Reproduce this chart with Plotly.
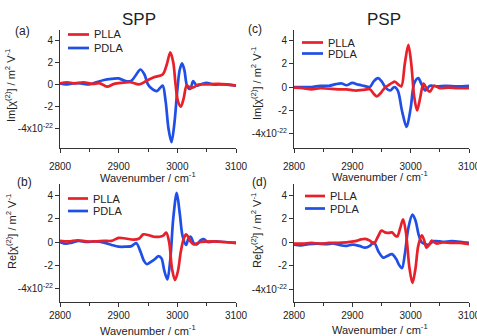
import plotly.graph_objects as go

W, H = 477, 336

RED = "#e8202a"
BLUE = "#1f4fe6"

# ---------------- data (wavenumber / cm^-1, chi^(2) in units of 1e-22 m^2 V^-1) ----------------
a_plla_x = [2800, 2812, 2825, 2840, 2855, 2868, 2880, 2892, 2905, 2920, 2935, 2948, 2960, 2975, 2982,
            2988, 2993, 2997, 3001, 3006, 3011, 3016, 3022, 3028, 3036, 3050, 3070, 3085, 3100]
a_plla_y = [0.1, 0.2, 0.1, 0.2, 0.05, 0.1, -0.2, 0.05, 0.15, 0.2, 0.0, 0.35, 0.65, 0.9, 1.8,
            2.9, 2.0, 0.0, -1.5, -2.0, -1.2, -0.1, -0.3, -0.25, 0.0, 0.0, 0.05, 0.0, -0.1]

a_pdla_x = [2800, 2810, 2822, 2835, 2850, 2862, 2875, 2888, 2900, 2912, 2922, 2930, 2937, 2944, 2950,
            2958, 2965, 2970, 2975, 2980, 2985, 2990, 2995, 3000, 3004, 3008, 3012, 3017, 3022, 3027,
            3033, 3040, 3050, 3060, 3080, 3100]
a_pdla_y = [0.1, 0.0, 0.1, 0.1, 0.0, 0.2, 0.4, 0.5, 0.55, 0.3, 0.35, 0.9, 1.35, 0.9, 0.0,
            -0.45, -0.6, -0.35, -0.1, -1.5, -4.0, -5.2, -3.5, -0.5, 1.3, 1.9, 1.3, -0.2, -0.4, 0.3,
            -0.1, 0.0, 0.15, 0.0, 0.0, -0.1]

c_plla_x = [2800, 2815, 2830, 2845, 2860, 2875, 2890, 2905, 2918, 2930, 2937, 2942, 2948, 2955, 2962,
            2968, 2973, 2979, 2984, 2990, 2996, 3001, 3006, 3011, 3016, 3022, 3028, 3033, 3040, 3050,
            3065, 3080, 3100]
c_plla_y = [-0.05, -0.1, -0.2, -0.1, -0.15, -0.2, -0.2, -0.3, -0.25, -0.2, -0.6, -0.8, -0.55, -0.1, 0.15,
            0.35, 0.45, 0.2, 0.05, 2.0, 3.6, 2.0, -0.8, -2.0, -1.0, 0.3, -0.2, -0.4, 0.1, -0.1,
            -0.05, -0.1, -0.1]

c_pdla_x = [2800, 2815, 2830, 2845, 2860, 2872, 2882, 2890, 2900, 2910, 2920, 2930, 2937, 2944, 2950,
            2957, 2965, 2972, 2978, 2985, 2993, 3000, 3006, 3013, 3019, 3025, 3033, 3045, 3060, 3080, 3100]
c_pdla_y = [0.0, 0.0, 0.0, 0.1, 0.1, 0.25, 0.3, 0.15, 0.35, 0.2, 0.1, 0.0, 0.5, 0.75, 0.5,
            -0.05, -0.3, 0.0, -0.3, -2.0, -3.4, -1.8, 0.3, 0.75, 0.2, -0.3, 0.1, 0.05, 0.1, 0.05, 0.1]

b_plla_x = [2800, 2815, 2830, 2845, 2860, 2875, 2888, 2900, 2912, 2925, 2935, 2942, 2950, 2960, 2970,
            2976, 2981, 2986, 2991, 2996, 3001, 3006, 3011, 3015, 3019, 3023, 3028, 3040, 3060, 3080, 3100]
b_plla_y = [0.1, 0.05, 0.15, 0.05, 0.05, 0.1, 0.1, 0.35, 0.3, 0.2, 0.3, 0.65, 0.6, 0.45, 0.45,
            0.55, 0.8, 0.0, -2.3, -3.25, -2.5, -0.8, 0.3, 0.65, 0.4, 0.0, -0.2, 0.0, 0.05, 0.0, -0.1]

b_pdla_x = [2800, 2810, 2820, 2832, 2845, 2860, 2875, 2888, 2900, 2912, 2922, 2930, 2937, 2943, 2948,
            2955, 2962, 2968, 2973, 2978, 2983, 2988, 2993, 2999, 3004, 3009, 3015, 3019, 3023, 3028,
            3033, 3040, 3045, 3052, 3065, 3080, 3100]
b_pdla_y = [0.0, -0.15, -0.05, 0.1, 0.0, 0.05, -0.05, -0.25, -0.4, -0.4, -0.35, -0.1, -0.8, -1.6, -1.9,
            -1.7, -1.45, -1.2, -1.4, -2.5, -3.2, -1.5, 2.0, 4.2, 2.5, 0.5, -0.25, 0.3, 0.45, -0.1,
            -0.2, 0.15, 0.25, 0.0, 0.05, 0.0, -0.05]

d_plla_x = [2800, 2815, 2830, 2845, 2860, 2875, 2890, 2905, 2915, 2922, 2930, 2937, 2944, 2950, 2956,
            2962, 2968, 2973, 2977, 2982, 2987, 2992, 2998, 3003, 3008, 3013, 3019, 3023, 3027, 3032,
            3036, 3044, 3055, 3070, 3085, 3100]
d_plla_y = [-0.1, -0.1, -0.05, -0.1, -0.05, -0.05, 0.0, 0.1, 0.25, 0.3, 0.15, -0.1, 0.5, 1.0, 0.85,
            0.8, 0.85, 0.6, 0.5, 1.2, 1.95, 0.8, -2.2, -3.45, -2.3, -0.3, 0.6, 0.2, -0.45, -0.2,
            0.15, -0.1, 0.0, -0.05, -0.05, -0.15]

d_pdla_x = [2800, 2812, 2825, 2840, 2855, 2868, 2880, 2890, 2900, 2912, 2922, 2930, 2937, 2945, 2953,
            2960, 2968, 2975, 2980, 2985, 2990, 2996, 3003, 3008, 3014, 3019, 3025, 3030, 3040, 3055,
            3070, 3085, 3100]
d_pdla_y = [-0.2, -0.25, -0.15, -0.1, -0.15, -0.1, -0.25, -0.3, -0.2, -0.3, -0.45, -0.3, 0.0, -0.8, -1.3,
            -1.15, -1.0, -1.4, -1.9, -2.2, -1.0, 1.2, 2.35, 1.9, 0.6, 0.0, -0.15, -0.2, 0.1, 0.05,
            0.1, 0.05, -0.05]

series_names = ["PLLA", "PDLA"]
panel_labels = ["(a)", "(b)", "(c)", "(d)"]
column_titles = ["SPP", "PSP"]
x_tickvals = [2800, 2900, 3000, 3100]
y_tickvals = [-4, -2, 0, 2, 4]
y_ticktext = ["-4x10<sup>-22</sup>", "-2", "0", "2", "4"]
x_title = "Wavenumber / cm<sup>-1</sup>"
y_title_im = "Im[χ<sup>(2)</sup>] / m<sup>2</sup> V<sup>-1</sup>"
y_title_re = "Re[χ<sup>(2)</sup>] / m<sup>2</sup> V<sup>-1</sup>"

# ---------------- layout helpers ----------------
def px(x):
    return x / W

def py(y):
    return 1 - y / H

FONT = "Arial, Liberation Sans, sans-serif"

# panel geometry in pixels
panels = {
    "a": dict(l=60, r=236, t=30, b=148, yr=[-5.73, 4.91], ax=1, stand=5),
    "b": dict(l=60, r=236, t=184, b=302, yr=[-5.13, 4.96], ax=2, stand=0),
    "c": dict(l=294, r=469, t=30, b=148, yr=[-5.2, 4.86], ax=3, stand=5),
    "d": dict(l=294, r=469, t=184, b=302, yr=[-5.07, 4.96], ax=4, stand=0),
}

data_map = {
    "a": ((a_plla_x, a_plla_y), (a_pdla_x, a_pdla_y)),
    "b": ((b_plla_x, b_plla_y), (b_pdla_x, b_pdla_y)),
    "c": ((c_plla_x, c_plla_y), (c_pdla_x, c_pdla_y)),
    "d": ((d_plla_x, d_plla_y), (d_pdla_x, d_pdla_y)),
}

fig = go.Figure()
layout = dict(
    template="none",
    width=W, height=H,
    margin=dict(l=0, r=0, t=0, b=0, autoexpand=False),
    paper_bgcolor="white", plot_bgcolor="white",
    showlegend=False,
    font=dict(family=FONT, size=10, color="#222"),
)

for key, p in panels.items():
    n = p["ax"]
    xa = "x" if n == 1 else f"x{n}"
    ya = "y" if n == 1 else f"y{n}"
    (plx, ply), (pdx, pdy) = data_map[key]
    fig.add_trace(go.Scatter(x=pdx, y=pdy, mode="lines", name=series_names[1],
                             line=dict(color=BLUE, width=2.7, shape="spline", smoothing=0.9),
                             xaxis=xa, yaxis=ya))
    fig.add_trace(go.Scatter(x=plx, y=ply, mode="lines", name=series_names[0],
                             line=dict(color=RED, width=2.7, shape="spline", smoothing=0.9),
                             xaxis=xa, yaxis=ya))
    xname = "xaxis" if n == 1 else f"xaxis{n}"
    yname = "yaxis" if n == 1 else f"yaxis{n}"
    layout[xname] = dict(
        domain=[px(p["l"]), px(p["r"])], range=[2800, 3100], anchor=ya, automargin=False,
        showline=True, linecolor="#333", linewidth=1, showgrid=False, zeroline=False,
        ticks="outside", ticklen=4, tickcolor="#333", tickwidth=1, ticklabelstandoff=p["stand"],
        ticklabeloverflow="allow",
        tickvals=x_tickvals, tickfont=dict(size=10, family=FONT, color="#222"),
        minor=dict(dtick=50, tick0=2800, ticks="outside", ticklen=3, tickcolor="#333", showgrid=False),
    )
    layout[yname] = dict(
        domain=[py(p["b"]), py(p["t"])], range=p["yr"], anchor=xa, automargin=False,
        showline=True, linecolor="#333", linewidth=1, showgrid=False, zeroline=False,
        ticks="outside", ticklen=4, tickcolor="#333", tickwidth=1, ticklabeloverflow="allow",
        tickvals=y_tickvals, ticktext=y_ticktext, tickfont=dict(size=10, family=FONT, color="#222"),
    )

annotations = []
shapes = []

def ann(text, x, y, size, angle=0, xanchor="center"):
    annotations.append(dict(text=text, x=px(x), y=py(y), xref="paper", yref="paper",
                            showarrow=False, xanchor=xanchor, yanchor="middle",
                            textangle=angle, font=dict(size=size, family=FONT, color="#222")))

# column titles
ann(column_titles[0], 139, 19, 17)
ann(column_titles[1], 384, 19, 17)
# panel labels
ann(panel_labels[0], 22, 31, 12)
ann(panel_labels[1], 24, 182, 12)
ann(panel_labels[2], 255, 29, 12)
ann(panel_labels[3], 259, 182, 12)
# x titles
ann(x_title, 148, 177, 11)
ann(x_title, 148, 330, 11)
ann(x_title, 380, 176, 11)
ann(x_title, 380, 329, 11)
# y titles
ann(y_title_im, 10, 86, 11, angle=-90)
ann(y_title_re, 11, 232, 11, angle=-90)
ann(y_title_im, 256, 84, 11, angle=-90)
ann(y_title_re, 256, 231, 11, angle=-90)

# legends (line sample + text) per panel
legend_pos = {
    "a": (68, 89, 34.5, 48),
    "b": (68, 88, 198.5, 211),
    "c": (302, 323, 42.5, 53.5),
    "d": (305, 325, 196, 208.5),
}
for key, (x0, x1, y_red, y_blue) in legend_pos.items():
    for name, col, yy in ((series_names[0], RED, y_red), (series_names[1], BLUE, y_blue)):
        shapes.append(dict(type="line", xref="paper", yref="paper",
                           x0=px(x0), x1=px(x1), y0=py(yy), y1=py(yy),
                           line=dict(color=col, width=2.7)))
        ann(name, x1 + 3, yy, 11, xanchor="left")

layout["annotations"] = annotations
layout["shapes"] = shapes
fig.update_layout(**layout)
fig.write_html("out.html",
               config={"displayModeBar": False},
               post_script="document.body.style.margin='0';document.body.style.overflow='hidden';")
